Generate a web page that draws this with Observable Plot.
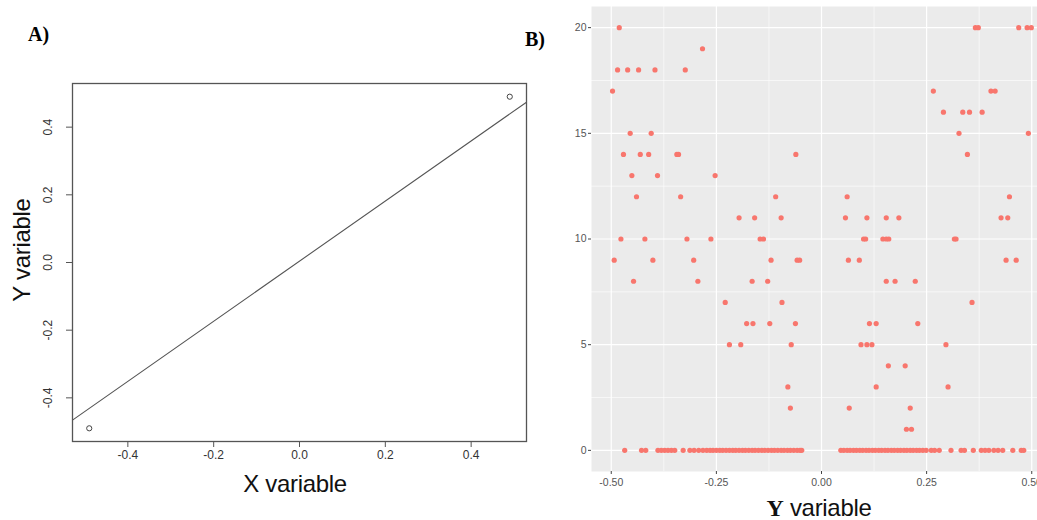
<!DOCTYPE html>
<html>
<head>
<meta charset="utf-8">
<script src="https://cdn.jsdelivr.net/npm/d3@7"></script>
<script src="https://cdn.jsdelivr.net/npm/@observablehq/plot@0.6"></script>
<style>
html, body { margin: 0; padding: 0; background: #fff; overflow: hidden; }
#wrap { position: relative; width: 1037px; height: 520px; overflow: hidden; background: #fff; }
.abs { position: absolute; white-space: nowrap; line-height: 1; }
.panel-tag { font-family: "Liberation Serif", "Times New Roman", serif; font-weight: bold; font-size: 20px; color: #000; }
.axis-title { font-family: "Liberation Sans", Arial, sans-serif; font-size: 24px; color: #111; letter-spacing: -0.3px; }
</style>
</head>
<body>
<div id="wrap"></div>
<script>
// ---------- Panel A data ----------
const panelA_x = [-0.49, 0.49];
const panelA_y = [-0.49, 0.49];
const panelA_fit = { intercept: 0.004, slope: 0.888 };
const panelA_ticks = [-0.4, -0.2, 0.0, 0.2, 0.4];
const panelA_domain = [-0.529, 0.529];

// ---------- Panel B data ----------
const panelB_xTicks = [-0.5, -0.25, 0, 0.25, 0.5];
const panelB_xMinor = [-0.375, -0.125, 0.125, 0.375];
const panelB_yTicks = [0, 5, 10, 15, 20];
const panelB_yMinor = [2.5, 7.5, 12.5, 17.5];
const panelB_levels = [20, 19, 18, 17, 16, 15, 14, 13, 12, 11, 10, 9, 8, 7, 6, 5, 4, 3, 2, 1, 0];
const panelB_xAtLevel = [
  [-0.481, 0.366, 0.373, 0.469, 0.489, 0.499],                         // 20
  [-0.283],                                                             // 19
  [-0.485, -0.461, -0.435, -0.396, -0.324],                             // 18
  [-0.497, 0.266, 0.403, 0.413],                                        // 17
  [0.290, 0.336, 0.352, 0.382],                                         // 16
  [-0.455, -0.405, 0.327, 0.492],                                       // 15
  [-0.471, -0.431, -0.411, -0.344, -0.340, -0.061, 0.347],              // 14
  [-0.451, -0.390, -0.253],                                             // 13
  [-0.440, -0.335, -0.109, 0.061, 0.447],                               // 12
  [-0.196, -0.159, -0.096, 0.057, 0.108, 0.154, 0.184, 0.427, 0.443],   // 11
  [-0.477, -0.420, -0.320, -0.263, -0.146, -0.138, 0.100, 0.105, 0.146, 0.154, 0.160, 0.316, 0.320], // 10
  [-0.493, -0.401, -0.304, -0.120, -0.058, -0.052, 0.064, 0.090, 0.439, 0.463], // 9
  [-0.447, -0.294, -0.165, -0.128, 0.154, 0.175, 0.223],                // 8
  [-0.229, -0.094, 0.358],                                              // 7
  [-0.178, -0.163, -0.123, -0.062, 0.114, 0.130, 0.229],                // 6
  [-0.219, -0.192, -0.072, 0.094, 0.108, 0.120, 0.296],                 // 5
  [0.159, 0.199],                                                       // 4
  [-0.080, 0.130, 0.301],                                               // 3
  [-0.074, 0.066, 0.211],                                               // 2
  [0.202, 0.214],                                                       // 1
  [-0.468, -0.428, -0.418, -0.389, -0.381, -0.373, -0.365, -0.357, -0.349, -0.329,
   -0.313, -0.303, -0.292, -0.282, -0.273, -0.265, -0.258, -0.250, -0.242, -0.235,
   -0.227, -0.219, -0.211, -0.204, -0.196, -0.188, -0.181, -0.173, -0.165, -0.158,
   -0.150, -0.142, -0.135, -0.127, -0.119, -0.112, -0.104, -0.096, -0.089, -0.081,
   -0.074, -0.066, -0.058, -0.051, -0.047,
   0.046, 0.053, 0.061, 0.068, 0.076, 0.083, 0.091, 0.098, 0.106, 0.113,
   0.121, 0.128, 0.136, 0.143, 0.151, 0.158, 0.166, 0.173, 0.181, 0.188,
   0.196, 0.203, 0.211, 0.218, 0.226, 0.233, 0.241, 0.249, 0.261, 0.269,
   0.280, 0.308, 0.332, 0.340, 0.361, 0.380, 0.389, 0.398, 0.410, 0.420,
   0.431, 0.455, 0.475, 0.481]                                          // 0
];

// ---------- Build tables ----------
const pointsA = panelA_x.map((x, i) => ({ x, y: panelA_y[i] }));
const fitLine = panelA_domain.map(x => ({ x, y: panelA_fit.intercept + panelA_fit.slope * x }));
const pointsB = panelB_levels.flatMap((y, i) => panelB_xAtLevel[i].map(x => ({ x, y })));

const wrap = document.getElementById("wrap");

// ---------- Panel A ----------
const plotA = Plot.plot({
  width: 540,
  height: 520,
  marginLeft: 72,
  marginRight: 14,
  marginTop: 83,
  marginBottom: 79,
  x: { domain: panelA_domain },
  y: { domain: panelA_domain },
  style: { fontFamily: "'Liberation Sans', Arial, sans-serif", fontSize: "12px", color: "#333", background: "transparent" },
  marks: [
    Plot.line(fitLine, { x: "x", y: "y", stroke: "#555", strokeWidth: 1.1 }),
    Plot.dot(pointsA, { x: "x", y: "y", r: 2.6, stroke: "#444", fill: "none", strokeWidth: 1 }),
    Plot.frame({ stroke: "#555", strokeWidth: 1.3 }),
    Plot.axisX({ ticks: panelA_ticks, tickFormat: d => d.toFixed(1), tickSize: 6, tickPadding: 3, stroke: "#555", label: null }),
    Plot.axisY({ ticks: panelA_ticks, tickFormat: () => "", tickSize: 6, stroke: "#555", label: null }),
    Plot.text(panelA_ticks, { y: d => d, text: d => d.toFixed(1), frameAnchor: "left", dx: -24, rotate: -90, textAnchor: "middle", lineAnchor: "middle", fill: "#333", fontSize: 12 })
  ]
});
plotA.style.position = "absolute";
plotA.style.left = "0px";
plotA.style.top = "0px";
wrap.appendChild(plotA);

// ---------- Panel B ----------
const plotB = Plot.plot({
  width: 500,
  height: 520,
  marginLeft: 31,
  marginRight: 9,
  marginTop: 6,
  marginBottom: 49,
  x: { domain: [-0.547, 0.547] },
  y: { domain: [-1, 21] },
  style: { fontFamily: "'Liberation Sans', Arial, sans-serif", fontSize: "10.5px", color: "#555", background: "transparent" },
  marks: [
    Plot.frame({ fill: "#EBEBEB", stroke: null }),
    Plot.gridX(panelB_xMinor, { stroke: "#fff", strokeOpacity: 1, strokeWidth: 0.6 }),
    Plot.gridY(panelB_yMinor, { stroke: "#fff", strokeOpacity: 1, strokeWidth: 0.6 }),
    Plot.gridX(panelB_xTicks, { stroke: "#fff", strokeOpacity: 1, strokeWidth: 1.2 }),
    Plot.gridY(panelB_yTicks, { stroke: "#fff", strokeOpacity: 1, strokeWidth: 1.2 }),
    Plot.axisX({ ticks: panelB_xTicks, tickFormat: d => d.toFixed(2), tickSize: 3, tickPadding: 4, stroke: "#444", label: null }),
    Plot.axisY({ ticks: panelB_yTicks, tickFormat: d => String(d), tickSize: 3, tickPadding: 2, stroke: "#444", label: null }),
    Plot.dot(pointsB, { x: "x", y: "y", r: 2.6, fill: "#F8766D", stroke: null })
  ]
});
plotB.style.position = "absolute";
plotB.style.left = "560px";
plotB.style.top = "0px";
wrap.appendChild(plotB);

// ---------- Text labels ----------
function addText(html, cls, css) {
  const el = document.createElement("div");
  el.className = "abs " + cls;
  el.innerHTML = html;
  Object.assign(el.style, css);
  wrap.appendChild(el);
  return el;
}
addText("A)", "panel-tag", { left: "28px", top: "24px" });
addText("B)", "panel-tag", { left: "525px", top: "29px" });
addText("X variable", "axis-title", { left: "295px", top: "472px", transform: "translateX(-50%)" });
addText("Y variable", "axis-title", { left: "22px", top: "250px", transform: "translate(-50%, -50%) rotate(-90deg)" });
addText('<span style="font-family:\'Liberation Serif\',serif;font-weight:bold;">Y</span> variable', "axis-title", { left: "819px", top: "496px", transform: "translateX(-50%)" });
</script>
</body>
</html>
